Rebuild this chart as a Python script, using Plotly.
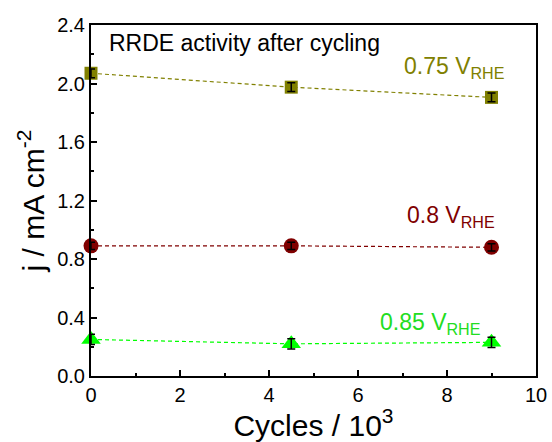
import plotly.graph_objects as go

# Cycle counts (in thousands) and measured current densities
cycles = [0, 4.5, 9]
j_075 = [2.07, 1.975, 1.905]
j_080 = [0.89, 0.89, 0.88]
j_085 = [0.25, 0.22, 0.23]
err_075 = [0.03, 0.03, 0.03]
err_080 = [0.025, 0.025, 0.025]
err_085 = [0.035, 0.035, 0.035]

series = [
    ("0.75 V<sub>RHE</sub>", j_075, err_075, "#808000", "square", 13),
    ("0.8 V<sub>RHE</sub>", j_080, err_080, "#800000", "circle", 15),
    ("0.85 V<sub>RHE</sub>", j_085, err_085, "#00FF00", "triangle-up", 17),
]

FONT = "Liberation Sans, Arial, sans-serif"

fig = go.Figure()
for name, ys, err, color, symbol, size in series:
    # dashed connecting line
    fig.add_trace(go.Scatter(
        x=cycles, y=ys, mode="lines",
        line=dict(color=color, width=1.2, dash="4px,3px"),
        showlegend=False, hoverinfo="skip"))
    # filled markers
    fig.add_trace(go.Scatter(
        x=cycles, y=ys, mode="markers", name=name, cliponaxis=False,
        marker=dict(symbol=symbol, size=size, color=color, line=dict(width=0)),
        showlegend=False))
    # error bars drawn on top of the markers
    fig.add_trace(go.Scatter(
        x=cycles, y=ys, mode="markers", cliponaxis=False,
        marker=dict(size=1, opacity=0),
        error_y=dict(type="data", array=err, visible=True,
                     color="black", thickness=1.5, width=4),
        showlegend=False, hoverinfo="skip"))

annotations = [
    dict(x=0.035, y=0.95, xref="paper", yref="paper", text="RRDE activity after cycling",
         showarrow=False, xanchor="left", yanchor="middle",
         font=dict(size=23, color="black", family=FONT)),
    dict(x=6.98, y=2.11, text=series[0][0], showarrow=False, xanchor="left", yanchor="middle",
         font=dict(size=23, color=series[0][3], family=FONT)),
    dict(x=7.06, y=1.09, text=series[1][0], showarrow=False, xanchor="left", yanchor="middle",
         font=dict(size=23, color=series[1][3], family=FONT)),
    dict(x=6.44, y=0.36, text=series[2][0], showarrow=False, xanchor="left", yanchor="middle",
         font=dict(size=23, color="#22DD22", family=FONT)),
]

fig.update_layout(
    width=552, height=442,
    margin=dict(l=91, r=5, t=25, b=66),
    plot_bgcolor="white", paper_bgcolor="white",
    font=dict(family=FONT, color="black"),
    annotations=annotations,
)
fig.update_xaxes(
    range=[0, 10], dtick=2, tick0=0,
    showgrid=False, zeroline=False,
    showline=True, linecolor="black", linewidth=2, mirror=True,
    ticks="inside", ticklen=6, tickwidth=2, tickcolor="black",
    minor=dict(ticks="inside", ticklen=3, tickwidth=2, dtick=1, tickcolor="black"),
    tickfont=dict(size=20, family=FONT), ticklabeloverflow="allow",
    title=dict(text="Cycles / 10<sup>3</sup>", font=dict(size=30, family=FONT), standoff=0),
)
fig.update_yaxes(
    range=[0, 2.4], dtick=0.4, tick0=0, tickformat=".1f",
    showgrid=False, zeroline=False,
    showline=True, linecolor="black", linewidth=2, mirror=True,
    ticks="inside", ticklen=6, tickwidth=2, tickcolor="black",
    minor=dict(ticks="inside", ticklen=3, tickwidth=2, dtick=0.2, tickcolor="black"),
    tickfont=dict(size=20, family=FONT),
    title=dict(text="j / mA cm<sup>-2</sup>", font=dict(size=30, family=FONT), standoff=4),
)

fig.write_html("out.html")
